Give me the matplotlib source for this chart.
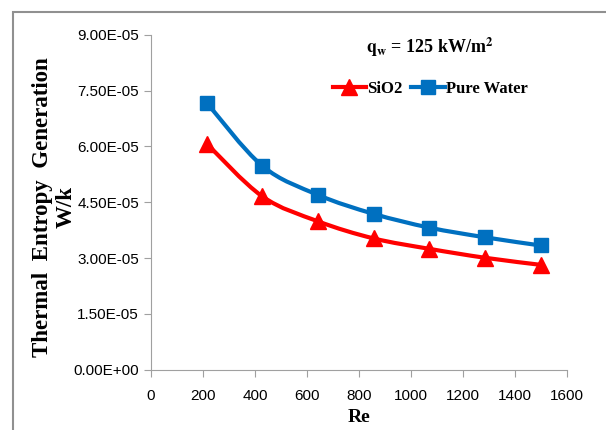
import matplotlib.pyplot as plt
from matplotlib.path import Path
from matplotlib.patches import PathPatch, Rectangle
from matplotlib.lines import Line2D

plt.rcParams['mathtext.fontset'] = 'stix'

# Data
re_values = [214, 428, 642, 856, 1070, 1284, 1498]
sio2 = [6.08e-5, 4.66e-5, 3.99e-5, 3.53e-5, 3.25e-5, 3.01e-5, 2.82e-5]
pure_water = [7.18e-5, 5.48e-5, 4.70e-5, 4.19e-5, 3.82e-5, 3.56e-5, 3.34e-5]
x_ticks = [0, 200, 400, 600, 800, 1000, 1200, 1400, 1600]
y_ticks = [0, 1.5e-5, 3.0e-5, 4.5e-5, 6.0e-5, 7.5e-5, 9.0e-5]

tick_font = ['Liberation Sans Narrow', 'Liberation Sans', 'DejaVu Sans']
serif_font = ['Liberation Serif', 'DejaVu Serif']


def smooth_path(xs, ys, t=1/6):
    # Excel-style smoothed line: cubic bezier through the points
    verts = [(xs[0], ys[0])]
    codes = [Path.MOVETO]
    n = len(xs)
    for i in range(n - 1):
        x0, y0 = (xs[i - 1], ys[i - 1]) if i > 0 else (xs[i], ys[i])
        x1, y1 = xs[i], ys[i]
        x2, y2 = xs[i + 1], ys[i + 1]
        x3, y3 = (xs[i + 2], ys[i + 2]) if i + 2 < n else (x2, y2)
        c1 = (x1 + (x2 - x0) * t, y1 + (y2 - y0) * t)
        c2 = (x2 - (x3 - x1) * t, y2 - (y3 - y1) * t)
        verts += [c1, c2, (x2, y2)]
        codes += [Path.CURVE4] * 3
    return Path(verts, codes)


fig = plt.figure(figsize=(6.06, 4.30), dpi=100)
ax = fig.add_axes([0.249, 0.140, 0.687, 0.779])

for xs, ys, color, marker, ms in [(re_values, sio2, '#FF0000', '^', 11),
                                  (re_values, pure_water, '#0070C0', 's', 10)]:
    ax.add_patch(PathPatch(smooth_path(xs, ys), facecolor='none',
                           edgecolor=color, linewidth=3, zorder=2))
    ax.plot(xs, ys, linestyle='none', marker=marker, markersize=ms,
            color=color, zorder=3)

ax.set_xlim(0, 1600)
ax.set_ylim(0, 9e-5)
ax.set_xticks(x_ticks)
ax.set_yticks(y_ticks)
ax.set_xticklabels([str(v) for v in x_ticks], family=tick_font, fontsize=11)
ax.set_yticklabels(['%.2E' % v for v in y_ticks], family=tick_font, fontsize=11)

for side in ['top', 'right']:
    ax.spines[side].set_visible(False)
for side in ['left', 'bottom']:
    ax.spines[side].set_color('#A0A0A0')
ax.tick_params(axis='both', colors='#A0A0A0', labelcolor='black', length=5)
ax.tick_params(axis='x', pad=9)

ax.set_xlabel('Re', family=serif_font, fontweight='bold', fontsize=14, labelpad=4)
fig.text(54 / 606, 1 - 207 / 430, 'Thermal  Entropy  Generation\nW/k', rotation=90,
         ha='center', va='center', multialignment='center', family=serif_font,
         fontweight='bold', fontsize=16.5, linespacing=1.15)

ax.text(0.67, 0.964, r'$\mathbf{q_w}$ = 125 kW/m$^\mathbf{2}$', transform=ax.transAxes,
        ha='center', va='center', family=serif_font, fontweight='bold', fontsize=13)

handles = [Line2D([], [], color='#FF0000', lw=3, marker='^', markersize=11),
           Line2D([], [], color='#0070C0', lw=3, marker='s', markersize=10)]
ax.legend(handles, ['SiO2', 'Pure Water'], loc='center', bbox_to_anchor=(0.671, 0.839),
          ncol=2, frameon=False, handlelength=2.0, handletextpad=0.1,
          columnspacing=0.5, prop={'family': serif_font, 'weight': 'bold', 'size': 12})

# outer chart frame
fig.patches.append(Rectangle((13 / 606, -0.1), 1.2, 1.1 - 12 / 430,
                             transform=fig.transFigure, fill=False,
                             edgecolor='#909090', linewidth=1.5))

fig.savefig('out.png', dpi=100)
